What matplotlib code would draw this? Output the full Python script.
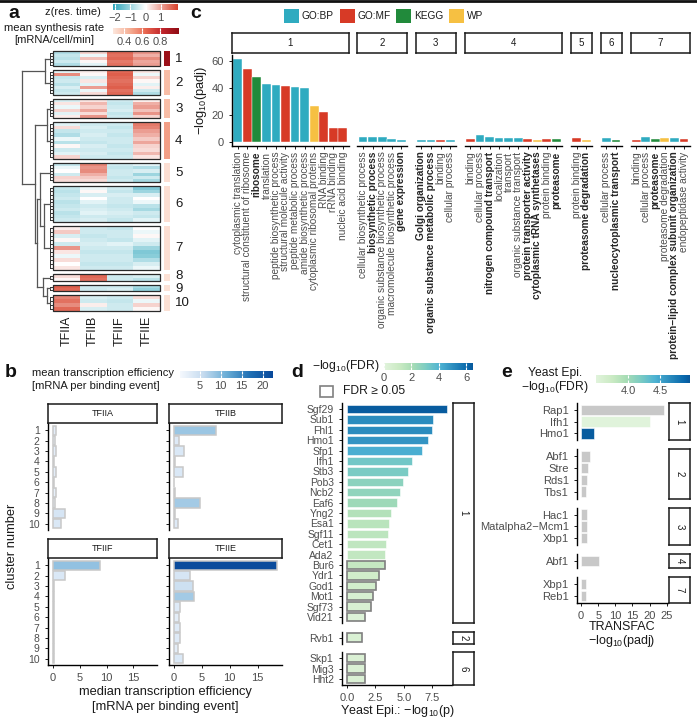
import numpy as np
import matplotlib
matplotlib.use('Agg')
import matplotlib.pyplot as plt
from matplotlib.colors import LinearSegmentedColormap, Normalize
from matplotlib.patches import Rectangle

plt.rcParams['font.family'] = ['Liberation Sans', 'DejaVu Sans']
plt.rcParams['mathtext.default'] = 'regular'

# ---------------- data: panel a ----------------
tf_names = ['TFIIA', 'TFIIB', 'TFIIF', 'TFIIE']
cluster_sizes = [15, 25, 19, 37, 19, 36, 44, 7, 6, 16]
synthesis_rate = [0.95, 0.42, 0.42, 0.50, 0.31, 0.31, 0.31, 0.30, 0.30, 0.30]

z_c1 = [[-0.8, 0.5, 1.7, 1.2], [-0.6, -0.2, 1.6, 0.9], [-0.7, 0.7, 1.7, 1.3],
        [-0.5, 0.1, 1.5, 1.0], [-0.8, -0.3, 1.6, 1.1]]
z_c2 = [[-0.3, 0.2, 1.7, 0.3], [1.3, 0.1, 1.8, -0.2], [-0.6, -0.4, 1.7, 0.5],
        [-0.5, 0.3, 1.6, 0.1], [-0.7, -0.3, 1.7, -0.3], [-0.4, 1.1, 1.8, 0.2],
        [-0.6, -0.2, 1.6, -0.5], [-0.5, 0.4, 1.7, -0.8]]
z_c3 = [[-0.4, 0.3, -0.5, 0.2], [0.3, 0.8, -0.6, 0.9], [-0.2, 0.5, -0.5, 1.1],
        [0.5, 1.0, -0.4, 0.7], [-0.3, 0.4, -0.6, 1.2], [0.2, 1.2, -0.5, 0.5]]
z_c4 = [[-0.3, -0.5, -0.5, 1.5], [0.4, -0.4, -0.6, 1.4], [-0.6, -0.5, -0.5, 1.1],
        [-0.8, -0.4, -0.6, 0.9], [-0.2, -0.5, -0.5, 0.6], [-0.7, -0.6, -0.5, 1.0],
        [0.1, -0.4, -0.6, 0.5], [-0.5, -0.5, -0.5, 0.4], [-0.3, -0.4, -0.6, 0.8],
        [0.5, -0.5, -0.5, 0.3]]
z_c5 = [[-0.6, 1.4, -0.5, -0.3], [-0.2, 1.2, -0.6, -0.8], [0.0, 1.3, -0.5, -0.4],
        [-0.5, 0.9, -0.5, -1.0], [0.5, 0.6, -0.6, -0.5], [0.4, 0.4, -0.5, -0.9]]
z_c6 = [[-0.6, -0.2, -0.5, -1.3], [-0.7, 0.1, -0.6, -1.0], [-0.6, -0.4, -0.4, -0.4],
        [-0.5, 0.0, -0.5, 0.0], [-0.7, -0.3, -0.5, -0.2], [-0.6, -0.5, -0.6, -0.7],
        [-0.5, -0.4, -0.5, -0.9], [-0.7, -0.3, -0.4, -0.5], [-0.6, -0.5, -0.5, -0.6],
        [-0.5, -0.4, -0.6, -0.3]]
z_c7 = [[0.2, -0.5, -0.6, 0.0], [0.6, -0.5, -0.5, -0.2], [-0.4, -0.6, -0.5, 0.1],
        [0.1, -0.5, -0.6, -0.3], [-0.5, -0.4, -0.3, -0.5], [1.2, -0.5, -0.5, -1.0],
        [0.3, -0.6, -0.6, -1.3], [-0.2, -0.5, -0.5, -1.2], [0.4, -0.5, -0.5, -0.8],
        [0.0, -0.6, -0.6, -0.4], [0.3, -0.5, -0.5, -0.2]]
z_c8 = [[0.4, 1.7, -0.5, -0.4], [0.1, 1.6, -0.5, -0.7]]
z_c9 = [[1.8, -0.5, -0.5, -0.9], [1.7, -0.5, -0.4, -1.1]]
z_c10 = [[1.4, -0.4, -0.5, 0.4], [1.6, -0.5, -0.6, -0.2], [1.3, 0.2, -0.5, 0.5],
         [1.7, -0.4, -0.5, 0.1]]
z_clusters = [z_c1, z_c2, z_c3, z_c4, z_c5, z_c6, z_c7, z_c8, z_c9, z_c10]

# dendrogram merges: (left node, right node, merge height); leaves 0..9 = clusters 1..10
dendro_merges = [(0, 1, 5), (2, 3, 3), (5, 6, 6), (4, 12, 10), (8, 9, 3),
                 (7, 14, 7), (13, 15, 13), (11, 16, 15), (10, 17, 28)]

# ---------------- data: panel b ----------------
clusters_b = list(range(1, 11))
median_tfiia = [0.5, 0.4, 0.5, 0.2, 0.5, 0.1, 0.5, 0.3, 2.3, 1.5]
median_tfiib = [7.6, 0.9, 1.7, 0.1, 1.6, 0.05, 0.1, 4.6, 0.1, 0.6]
median_tfiif = [8.7, 2.3, 0.1, 0.1, 0.1, 0.1, 0.1, 0.1, 0.1, 0.1]
median_tfiie = [18.5, 2.9, 3.4, 3.6, 1.1, 0.8, 1.0, 1.0, 0.7, 1.6]
mean_tfiia = [2.5, 2.0, 2.5, 1.5, 2.5, 1.0, 2.0, 2.0, 4.0, 3.5]
mean_tfiib = [8.5, 3.0, 3.5, 1.0, 3.5, 1.0, 1.0, 8.0, 1.0, 3.0]
mean_tfiif = [9.0, 3.5, 1.0, 1.0, 1.0, 1.0, 1.0, 1.0, 1.0, 1.0]
mean_tfiie = [22.0, 4.0, 5.0, 8.0, 3.0, 2.5, 3.0, 3.0, 2.5, 3.5]

# ---------------- data: panel c ----------------
go_terms_1 = ['cytoplasmic translation', 'structural constituent of ribosome', 'ribosome',
              'translation', 'peptide biosynthetic process', 'structural molecule activity',
              'peptide metabolic process', 'amide biosynthetic process',
              'cytoplasmic ribosomal proteins', 'RNA binding', 'rRNA binding', 'nucleic acid binding']
go_vals_1 = [61.5, 54.2, 48.2, 42.8, 42.5, 41.5, 40.5, 40.0, 26.5, 22.0, 10.2, 10.2]
go_src_1 = ['GO:BP', 'GO:MF', 'KEGG', 'GO:BP', 'GO:BP', 'GO:MF', 'GO:BP', 'GO:BP',
            'WP', 'GO:MF', 'GO:MF', 'GO:MF']
go_bold_1 = [0, 0, 1, 0, 0, 0, 0, 0, 0, 0, 0, 0]

go_terms_2 = ['cellular biosynthetic process', 'biosynthetic process',
              'organic substance biosynthetic process', 'macromolecule biosynthetic process',
              'gene expression']
go_vals_2 = [3.9, 3.7, 3.6, 2.0, 1.3]
go_src_2 = ['GO:BP'] * 5
go_bold_2 = [0, 1, 0, 0, 1]

go_terms_3 = ['Golgi organization', 'organic substance metabolic process', 'binding',
              'cellular process']
go_vals_3 = [1.5, 1.5, 1.5, 1.3]
go_src_3 = ['GO:BP', 'GO:BP', 'GO:MF', 'GO:BP']
go_bold_3 = [1, 1, 0, 0]

go_terms_4 = ['binding', 'cellular process', 'nitrogen compound transport', 'localization',
              'transport', 'organic substance transport', 'protein transporter activity',
              'cytoplasmic tRNA synthetases', 'protein binding', 'proteasome']
go_vals_4 = [2.2, 5.3, 3.8, 3.0, 2.9, 2.9, 2.2, 1.6, 1.9, 1.9]
go_src_4 = ['GO:MF', 'GO:BP', 'GO:BP', 'GO:BP', 'GO:BP', 'GO:BP', 'GO:MF', 'WP',
            'GO:MF', 'KEGG']
go_bold_4 = [0, 0, 1, 0, 0, 0, 1, 1, 0, 1]

go_terms_5 = ['protein binding', 'proteasome degradation']
go_vals_5 = [3.2, 1.5]
go_src_5 = ['GO:MF', 'WP']
go_bold_5 = [0, 1]

go_terms_6 = ['cellular process', 'nucleocytoplasmic transport']
go_vals_6 = [3.0, 1.2]
go_src_6 = ['GO:BP', 'KEGG']
go_bold_6 = [0, 1]

go_terms_7 = ['binding', 'cellular process', 'proteasome', 'proteasome degradation',
              'protein\u2212lipid complex subunit organization', 'endopeptidase activity']
go_vals_7 = [1.6, 3.6, 2.1, 3.2, 2.6, 2.3]
go_src_7 = ['GO:MF', 'GO:BP', 'KEGG', 'WP', 'GO:BP', 'GO:MF']
go_bold_7 = [0, 0, 1, 0, 1, 0]

source_names = ['GO:BP', 'GO:MF', 'KEGG', 'WP']
source_colors = ['#2fabc0', '#d73a26', '#218a3b', '#f6c042']

# ---------------- data: panel d ----------------
d_tf_1 = ['Sgf29', 'Sub1', 'Fhl1', 'Hmo1', 'Sfp1', 'Ifh1', 'Stb3', 'Pob3', 'Ncb2', 'Eaf6',
          'Yng2', 'Esa1', 'Sgf11', 'Cet1', 'Ada2', 'Bur6', 'Ydr1', 'God1', 'Mot1', 'Sgf73', 'Vid21']
d_p_1 = [8.8, 7.6, 7.5, 7.1, 6.6, 5.7, 5.4, 4.9, 4.7, 4.4, 3.9, 3.7, 3.6, 3.4, 3.35,
         3.3, 2.85, 2.55, 2.25, 2.1, 1.6]
d_fdr_1 = [6.4, 5.1, 5.1, 4.9, 4.2, 3.3, 3.1, 2.7, 2.6, 2.3, 1.8, 1.6, 1.5, 1.42, 1.36,
           1.28, 0.85, 0.75, 0.55, 0.5, 0.25]
d_tf_2 = ['Rvb1']
d_p_2 = [1.3]
d_fdr_2 = [0.45]
d_tf_6 = ['Skp1', 'Mig3', 'Hht2']
d_p_6 = [1.6, 1.6, 1.6]
d_fdr_6 = [0.4, 0.4, 0.4]

# ---------------- data: panel e ----------------
e_tf_1 = ['Rap1', 'Ifh1', 'Hmo1']
e_padj_1 = [24.2, 20.0, 3.8]
e_fdr_1 = [np.nan, 3.52, 4.95]
e_tf_2 = ['Abf1', 'Stre', 'Rds1', 'Tbs1']
e_padj_2 = [2.7, 1.9, 1.6, 1.3]
e_fdr_2 = [np.nan] * 4
e_tf_3 = ['Hac1', 'Matalpha2\u2212Mcm1', 'Xbp1']
e_padj_3 = [1.8, 1.7, 1.7]
e_fdr_3 = [np.nan] * 3
e_tf_4 = ['Abf1']
e_padj_4 = [5.1]
e_fdr_4 = [np.nan]
e_tf_7 = ['Xbp1', 'Reb1']
e_padj_7 = [1.3, 1.3]
e_fdr_7 = [np.nan] * 2

# ---------------- figure setup ----------------
W, H = 697, 720
fig = plt.figure(figsize=(W / 100, H / 100), dpi=100)
GREY = '#4d4d4d'
INK = '#1a1a1a'


def box(x0, y0, x1, y1):
    return fig.add_axes([x0 / W, 1 - y1 / H, (x1 - x0) / W, (y1 - y0) / H])


def T(x, y, s, **kw):
    kw.setdefault('color', INK)
    fig.text(x / W, 1 - y / H, s, **kw)


def hbar(x0, y0, x1, y1, cmap, norm, ticks, labels, fs=8):
    cax = box(x0, y0, x1, y1)
    grad = np.linspace(norm.vmin, norm.vmax, 256)[None, :]
    cax.imshow(grad, aspect='auto', cmap=cmap, norm=norm,
               extent=[norm.vmin, norm.vmax, 0, 1])
    cax.set_xlim(norm.vmin, norm.vmax)
    cax.set_ylim(0, 1)
    cax.set_yticks([])
    cax.set_xticks(ticks)
    cax.set_xticklabels(labels, fontsize=fs, color=GREY)
    cax.tick_params(axis='x', direction='in', length=2, color='white', width=0.8,
                    top=True, pad=2)
    for s in cax.spines.values():
        s.set_visible(False)
    return cax


def strip(x0, y0, x1, y1, label, rot=0, fs=7):
    sa = box(x0, y0, x1, y1)
    sa.set_xticks([])
    sa.set_yticks([])
    for s in sa.spines.values():
        s.set_linewidth(1.1)
        s.set_color(INK)
    sa.text(0.5, 0.5, label, ha='center', va='center', fontsize=fs, rotation=rot,
            color=INK, transform=sa.transAxes)


def classic(ax, left=True, bottom=True):
    for k in ['top', 'right']:
        ax.spines[k].set_visible(False)
    ax.spines['left'].set_visible(left)
    ax.spines['bottom'].set_visible(bottom)
    for k in ['left', 'bottom']:
        ax.spines[k].set_linewidth(1.0)
    ax.tick_params(length=2.5, width=0.7, colors=INK, labelcolor=GREY)
    ax.set_facecolor('none')


# ---------------- panel a ----------------
cmap_z = LinearSegmentedColormap.from_list('z', ['#2ca5bb', '#ffffff', '#d8412b'])
norm_z = Normalize(-2.15, 2.15)
cmap_s = LinearSegmentedColormap.from_list(
    's', ['#fde7dd', '#f6b096', '#e8664f', '#c0242b', '#8e0c14'])
norm_s = Normalize(0.28, 1.0)

ax_a = box(0, 40, 200, 320)
ax_a.set_xlim(0, 200)
ax_a.set_ylim(320, 40)
ax_a.axis('off')

hx0, hx1 = 53, 160
colw = (hx1 - hx0) / 4
gap = 4
tops = []
y = 51
for n in cluster_sizes:
    tops.append(y)
    y += n + gap

label_nudge = [0, 0, 0, 0, 0, 0, 0, -1.2, 1.2, 0]
leaf_y = []
for i, (zrows, n) in enumerate(zip(z_clusters, cluster_sizes)):
    top = tops[i]
    zr = np.array(zrows)
    ye = np.linspace(top, top + n, len(zr) + 1)
    xe = hx0 + colw * np.arange(5)
    ax_a.pcolormesh(xe, ye, zr, cmap=cmap_z, norm=norm_z, shading='flat')
    ax_a.add_patch(Rectangle((hx0, top), hx1 - hx0, n, fill=False, ec='#2a2a2a', lw=0.9))
    ax_a.add_patch(Rectangle((164, top), 6, n, fc=cmap_s(norm_s(synthesis_rate[i])),
                             ec='none'))
    ax_a.text(175, top + n / 2 + label_nudge[i], str(i + 1), fontsize=9.5, va='center',
              ha='left', color=INK)
    # small within-cluster comb
    yc = (ye[:-1] + ye[1:]) / 2
    for yy in yc:
        ax_a.plot([50, 53], [yy, yy], color='#333333', lw=0.7)
    ax_a.plot([50, 50], [yc[0], yc[-1]], color='#333333', lw=0.7)
    leaf_y.append(top + n / 2)

for j, name in enumerate(tf_names):
    ax_a.text(hx0 + colw * (j + 0.5), 316, name, rotation=90, ha='center', va='top',
              fontsize=9, color=INK)

# dendrogram from merges
node_x = {i: 50 for i in range(10)}
node_y = {i: leaf_y[i] for i in range(10)}
for k, (a, b, h) in enumerate(dendro_merges):
    nid = 10 + k
    px = 50 - h
    for c in (a, b):
        ax_a.plot([px, node_x[c]], [node_y[c], node_y[c]], color='#555555', lw=0.9)
    ax_a.plot([px, px], [node_y[a], node_y[b]], color='#555555', lw=0.9)
    node_x[nid] = px
    node_y[nid] = (node_y[a] + node_y[b]) / 2

hbar(113, 4, 178, 10, cmap_z, norm_z, [-2, -1, 0, 1], ['\u22122', '\u22121', '0', '1'])
hbar(113, 28, 178, 34, cmap_s, norm_s, [0.4, 0.6, 0.8], ['0.4', '0.6', '0.8'])
T(101, 12, 'z(res. time)', fontsize=8, ha='right', va='center')
T(54, 28, 'mean synthesis rate', fontsize=8, ha='center', va='center')
T(54, 40, '[mRNA/cell/min]', fontsize=8, ha='center', va='center')

# ---------------- panel b ----------------
cmap_b = LinearSegmentedColormap.from_list(
    'b', ['#f5f9fe', '#c6dbef', '#6baed6', '#2171b5', '#08489a'])
norm_b = Normalize(0.3, 22.5)
b_sets = [('TFIIA', median_tfiia, mean_tfiia, (48, 423, 157, 530), True, False),
          ('TFIIB', median_tfiib, mean_tfiib, (169, 423, 282, 530), False, False),
          ('TFIIF', median_tfiif, mean_tfiif, (48, 558, 157, 665), True, True),
          ('TFIIE', median_tfiie, mean_tfiie, (169, 558, 282, 665), False, True)]
for name, med, mn, (x0, y0, x1, y1), ylab, xlab in b_sets:
    ax = box(x0, y0, x1, y1)
    ax.barh(clusters_b, med, height=0.9, color=[cmap_b(norm_b(v)) for v in mn],
            edgecolor='#c8c8c8', linewidth=1.1)
    ax.set_xlim(-0.93, 19.4)
    ax.set_ylim(10.6, 0.3)
    classic(ax, left=True, bottom=xlab)
    ax.set_yticks(clusters_b)
    if ylab:
        ax.set_yticklabels([str(c) for c in clusters_b], fontsize=7.5)
    else:
        ax.set_yticklabels([])
    ax.set_xticks([0, 5, 10, 15])
    if xlab:
        ax.set_xticklabels(['0', '5', '10', '15'], fontsize=8)
    else:
        ax.tick_params(axis='x', bottom=False, labelbottom=False)
    strip(x0, y0 - 19, x1, y0, name, fs=6.5)

hbar(180, 371, 273, 378, cmap_b, norm_b, [5, 10, 15, 20], ['5', '10', '15', '20'])
T(32, 373, 'mean transcription efficiency', fontsize=8, ha='left', va='center')
T(32, 386, '[mRNA per binding event]', fontsize=8, ha='left', va='center')
T(12, 546, 'cluster number', fontsize=9.3, rotation=90, ha='center', va='center')
T(165, 692, 'median transcription efficiency', fontsize=9.3, ha='center', va='center')
T(165, 707, '[mRNA per binding event]', fontsize=9.3, ha='center', va='center')

# ---------------- panel c ----------------
c_facets = [(go_terms_1, go_vals_1, go_src_1, go_bold_1),
            (go_terms_2, go_vals_2, go_src_2, go_bold_2),
            (go_terms_3, go_vals_3, go_src_3, go_bold_3),
            (go_terms_4, go_vals_4, go_src_4, go_bold_4),
            (go_terms_5, go_vals_5, go_src_5, go_bold_5),
            (go_terms_6, go_vals_6, go_src_6, go_bold_6),
            (go_terms_7, go_vals_7, go_src_7, go_bold_7)]
src_col = dict(zip(source_names, source_colors))
unit, fgap = 9.55, 8.8
x = 232
for k, (terms, vals, src, bold) in enumerate(c_facets):
    n = len(terms)
    w = (n + 0.2) * unit
    ax = box(x, 55, x + w, 146)
    ax.bar(np.arange(n), vals, width=0.92, color=[src_col[s] for s in src],
           edgecolor='white', linewidth=0.3)
    ax.set_xlim(-0.6, n - 0.4)
    ax.set_ylim(-3.07, 64.5)
    classic(ax, left=(k == 0))
    ax.set_xticks(np.arange(n))
    ax.set_xticklabels(terms, rotation=90, fontsize=7.3)
    ax.tick_params(axis='x', pad=1.5)
    for lbl, b in zip(ax.get_xticklabels(), bold):
        if b:
            lbl.set_fontweight('bold')
            lbl.set_color('#262626')
    if k == 0:
        ax.set_yticks([0, 20, 40, 60])
        ax.set_yticklabels(['0', '20', '40', '60'], fontsize=8)
        ax.set_ylabel('\u2212log$_{10}$(padj)', fontsize=9.3, color=INK, labelpad=2)
    else:
        ax.set_yticks([])
    strip(x, 33, x + w, 53, str([1, 2, 3, 4, 5, 6, 7][k]))
    x += w + fgap

ov = fig.add_axes([0, 0, 1, 1])
ov.set_xlim(0, W)
ov.set_ylim(H, 0)
ov.axis('off')
lx = [284, 340, 396, 449]
for xx, name, col in zip(lx, source_names, source_colors):
    ov.add_patch(Rectangle((xx, 9), 15, 14, fc=col, ec='none'))
    ov.text(xx + 18, 16, name, fontsize=7.3, va='center', ha='left', color=INK)
ov.plot([0, W], [0.8, 0.8], color='#111111', lw=2)

# ---------------- panel d ----------------
cmap_gnbu = LinearSegmentedColormap.from_list(
    'gnbu', plt.get_cmap('GnBu')(np.linspace(0.12, 0.92, 64)))
norm_d = Normalize(0.0, 6.5)
d_sets = [(d_tf_1, d_p_1, d_fdr_1, '1'), (d_tf_2, d_p_2, d_fdr_2, '2'),
          (d_tf_6, d_p_6, d_fdr_6, '6')]
rowh = 10.4
y = 403
for k, (names, pv, fd, lab) in enumerate(d_sets):
    n = len(names)
    hpx = (n - 1 + 1.16) * rowh
    ax = box(342, y, 452, y + hpx)
    idx = np.arange(n)
    sig = np.array(fd) > 1.301
    ax.barh(idx[sig], np.array(pv)[sig], height=0.82,
            color=[cmap_gnbu(norm_d(v)) for v in np.array(fd)[sig]],
            edgecolor='white', linewidth=0.4)
    ax.barh(idx[~sig], np.array(pv)[~sig], height=0.8,
            color=[cmap_gnbu(norm_d(v)) for v in np.array(fd)[~sig]],
            edgecolor='#7f7f7f', linewidth=1.2)
    ax.set_ylim(n - 1 + 0.58, -0.58)
    ax.set_xlim(-0.44, 9.24)
    last = k == len(d_sets) - 1
    classic(ax, left=True, bottom=last)
    ax.set_yticks(idx)
    ax.set_yticklabels(names, fontsize=7.5)
    ax.set_xticks([0, 2.5, 5, 7.5])
    if last:
        ax.set_xticklabels(['0.0', '2.5', '5.0', '7.5'], fontsize=8)
    else:
        ax.tick_params(axis='x', bottom=False, labelbottom=False)
    strip(453, y, 474, y + hpx, lab, rot=-90, fs=7)
    y += hpx + 8.5

hbar(384, 363, 473, 370, cmap_gnbu, norm_d, [0, 2, 4, 6], ['0', '2', '4', '6'])
T(380, 366, '\u2212log$_{10}$(FDR)', fontsize=8.7, ha='right', va='center')
ov.add_patch(Rectangle((320, 386), 13, 11, fc='white', ec='#808080', lw=1.2))
T(343, 391.5, 'FDR \u2265 0.05', fontsize=8.7, ha='left', va='center')
T(397, 711, 'Yeast Epi.: \u2212log$_{10}$(p)', fontsize=9, ha='center', va='center')

# ---------------- panel e ----------------
norm_e = Normalize(3.5, 4.97)
e_sets = [(e_tf_1, e_padj_1, e_fdr_1, '1'), (e_tf_2, e_padj_2, e_fdr_2, '2'),
          (e_tf_3, e_padj_3, e_fdr_3, '3'), (e_tf_4, e_padj_4, e_fdr_4, '4'),
          (e_tf_7, e_padj_7, e_fdr_7, '7')]
rowe = 11.7
y = 403
for k, (names, pv, fd, lab) in enumerate(e_sets):
    n = len(names)
    hpx = (n - 1 + 1.2) * rowe
    ax = box(577, y, 668, y + hpx)
    cols = ['#c8c8c8' if np.isnan(v) else cmap_gnbu(norm_e(v)) for v in fd]
    ax.barh(np.arange(n), pv, height=0.9, color=cols, edgecolor='white', linewidth=0.4)
    ax.set_ylim(n - 1 + 0.6, -0.6)
    ax.set_xlim(-1.21, 25.4)
    last = k == len(e_sets) - 1
    classic(ax, left=True, bottom=last)
    ax.set_yticks(np.arange(n))
    ax.set_yticklabels(names, fontsize=8)
    ax.set_xticks([0, 5, 10, 15, 20, 25])
    if last:
        ax.set_xticklabels(['0', '5', '10', '15', '20', '25'], fontsize=8)
    else:
        ax.tick_params(axis='x', bottom=False, labelbottom=False)
    strip(669, y, 690, y + hpx, lab, rot=-90, fs=7)
    y += hpx + 9

hbar(596, 375, 690, 383, cmap_gnbu, norm_e, [4.0, 4.5], ['4.0', '4.5'])
T(555, 373, 'Yeast Epi.', fontsize=8.7, ha='center', va='center')
T(555, 387, '\u2212log$_{10}$(FDR)', fontsize=8.7, ha='center', va='center')
T(622, 627, 'TRANSFAC', fontsize=9, ha='center', va='center')
T(622, 641, '\u2212log$_{10}$(padj)', fontsize=9, ha='center', va='center')

# ---------------- panel letters ----------------
for lx_, ly_, s in [(8, 14, 'a'), (190, 14, 'c'), (5, 372, 'b'), (291, 372, 'd'),
                    (501, 372, 'e')]:
    T(lx_, ly_, s, fontsize=14, fontweight='bold', ha='left', va='center', color='#111111')

fig.savefig('out.png', dpi=100)
